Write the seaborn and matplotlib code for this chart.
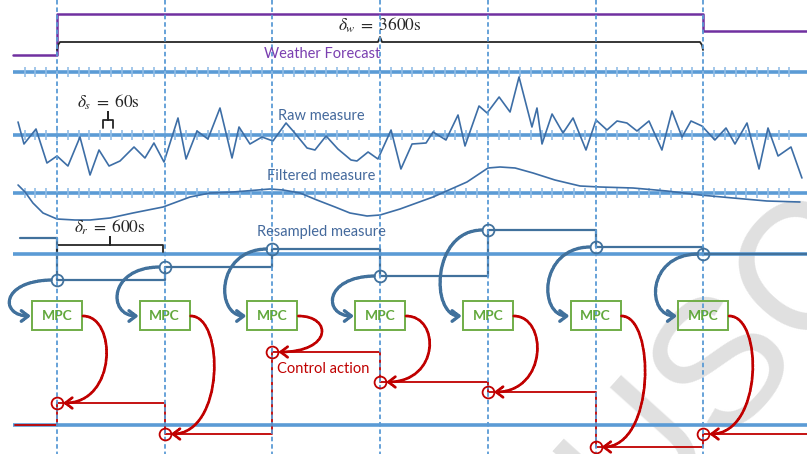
import numpy as np
import pandas as pd
import matplotlib
matplotlib.use("Agg")
import matplotlib.pyplot as plt
import seaborn as sns
from matplotlib.path import Path
from matplotlib.patches import FancyArrowPatch, Rectangle

# ---------------- data ----------------
# MPC / resampling instants (s)
sample_t = [0, 600, 1200, 1800, 2400, 3000, 3600]

# weather forecast step (level above its base line)
weather_t = [-245, 0, 3600, 4180]
weather_v = [0, 41, 24, 24]

# raw measure (s, deviation from lane axis)
raw_t = [-217, -184, -117, -56, 0, 61, 128, 184, 234, 290, 351, 429, 490, 540, 596,
         674, 719, 780, 841, 908, 975, 1014, 1075, 1142, 1203, 1276, 1320, 1393, 1437,
         1499, 1565, 1638, 1671, 1733, 1788, 1861, 1916, 1978, 2056, 2095, 2167, 2234,
         2273, 2351, 2396, 2463, 2524, 2574, 2646, 2674, 2702, 2758, 2819, 2875, 2947,
         3003, 3064, 3120, 3175, 3231, 3298, 3370, 3426, 3482, 3532, 3593, 3665, 3727,
         3777, 3844, 3911, 3961, 4017, 4089, 4150]
raw_v = [13, -9, 6, -28, -21, -31, -2, -40, -15, -31, -26, -12, -23, -8, -27,
         17, -24, 4, -4, 27, -23, 8, -9, -2, -6, 12, 3, -13, -15,
         -1, -14, -25, -26, -17, -24, 5, -34, -9, -8, 3, -5, 20,
         -11, 29, 22, 38, 23, 58, 8, 27, -9, 21, 2, 17, -15,
         15, 5, 14, 12, 4, 14, -15, 24, -2, 14, 9, -5, 7,
         -9, 12, -34, 7, -21, -12, -43]

# filtered measure
filt_t = [-217, -178, -134, -78, 0, 100, 184, 295, 423, 591, 741, 852, 981, 1187, 1259,
          1354, 1448, 1549, 1632, 1727, 1800, 1911, 2095, 2284, 2401, 2468, 2552, 2652,
          2774, 2914, 3025, 3209, 3398, 3582, 3766, 3955, 4139]
filt_v = [8, 1, -10, -20, -26, -27, -27, -25, -20, -14, -4, 0, 1, 4, 3,
          0, -7, -14, -20, -23, -22, -16, -4, 11, 25, 26, 25, 20,
          13, 7, 6, 5, 2, -2, -5, -8, -9]

# resampled measure (held value)
res_t = [-206, 0, 600, 1200, 1800, 2400, 3000, 3600, 4180]
res_v = [16, -26, -13, 5, -22, 24, 7, 0, 0]

# control action (held value)
ctrl_t = [-234, 0, 600, 1200, 1800, 2400, 3000, 3600, 4180]
ctrl_v = [0, 22, -9, 73, 43, 33, -22, -9, -9]

# ---------------- layout ----------------
PX = 600 / 107.7            # seconds per pixel
Y_WEATHER, Y_RAW, Y_FILT, Y_RES, Y_CTRL = 55, 135, 193, 254, 425
TICK_LANES = [72, 135, 193]
BLUE_AX = '#5b9bd5'
BLUE = '#41719c'
LINE = '#3d6ea6'
RED = '#c00000'
GREEN = '#70ad47'
PURPLE = '#7030a0'


def px(p):
    return (p - 57) * PX


sns.set_theme(style='white')
plt.rcParams['font.family'] = ['Lato', 'DejaVu Sans']
plt.rcParams['mathtext.fontset'] = 'stix'

fig = plt.figure(figsize=(8.07, 4.54), dpi=100)
ax = fig.add_axes([0, 0, 1, 1])

# watermark
ax.text(px(728), 357, 'MANUSCRIPT', fontsize=130, family='Liberation Sans',
        color='#e0e0e0', rotation=48, ha='center', va='center',
        rotation_mode='anchor', zorder=0)

# axis lines with 60 s ticks
ax.hlines([72, Y_RAW, Y_FILT, Y_RES, Y_CTRL], px(13), px(807), color=BLUE_AX, lw=2.6, zorder=2)
tick_t = np.arange(-180, 4081, 60)
for yl in TICK_LANES:
    ax.vlines(tick_t, yl - 5, yl + 5, color='#92bde6', lw=1.2, zorder=2)

# weather forecast
wdf = pd.DataFrame({'t': weather_t, 'y': Y_WEATHER - np.array(weather_v)})
sns.lineplot(data=wdf, x='t', y='y', ax=ax, color=PURPLE, lw=1.8,
             drawstyle='steps-post', estimator=None, sort=False, zorder=3)

# raw / filtered
rdf = pd.DataFrame({'t': raw_t, 'y': Y_RAW - np.array(raw_v)})
sns.lineplot(data=rdf, x='t', y='y', ax=ax, color=LINE, lw=1.2,
             estimator=None, sort=False, zorder=3)
fdf = pd.DataFrame({'t': filt_t, 'y': Y_FILT - np.array(filt_v)})
sns.lineplot(data=fdf, x='t', y='y', ax=ax, color=LINE, lw=1.2,
             estimator=None, sort=False, zorder=3)

# resampled / control steps
sdf = pd.DataFrame({'t': res_t, 'y': Y_RES - np.array(res_v)})
sns.lineplot(data=sdf, x='t', y='y', ax=ax, color=BLUE, lw=1.6,
             drawstyle='steps-post', estimator=None, sort=False, zorder=3)
cdf = pd.DataFrame({'t': ctrl_t, 'y': Y_CTRL - np.array(ctrl_v)})
sns.lineplot(data=cdf, x='t', y='y', ax=ax, color=RED, lw=1.3,
             drawstyle='steps-post', estimator=None, sort=False, zorder=3)

# vertical dashed instants
ax.vlines(sample_t, 0, 454, colors=BLUE_AX, linestyles=(0, (2.5, 1.6)), lw=1.3, zorder=4)

res_y = [Y_RES - v for v in res_v[1:8]]
ctrl_y = [Y_CTRL - v for v in ctrl_v[1:8]]
ax.plot(sample_t, res_y, 'o', ms=8.5, mfc='none', mec=BLUE, mew=1.3, zorder=6)
ax.plot(sample_t, ctrl_y, 'o', ms=8.5, mfc='none', mec=RED, mew=1.3, zorder=6)

# MPC boxes and arrows
C4 = [Path.MOVETO, Path.CURVE4, Path.CURVE4, Path.CURVE4]
for T, yr, yc in zip(sample_t, res_y, ctrl_y):
    ax.add_patch(Rectangle((T - 25 * PX, 301), 50 * PX, 29, fc='none', ec=GREEN, lw=1.4, zorder=5))
    ax.text(T, 316.5, 'MPC', color='#62a83c', fontsize=10, fontweight='bold',
            ha='center', va='center', zorder=5)
    bpath = Path([(T - 6 * PX, yr), (T - 57 * PX, yr + 1), (T - 57 * PX, 316), (T - 26 * PX, 316)], C4)
    ax.add_patch(FancyArrowPatch(path=bpath, arrowstyle='->,head_length=0.5,head_width=0.38',
                                 mutation_scale=10, lw=2.4, color=BLUE, linestyle=(0, (1, 0.5)), zorder=6))
    rpath = Path([(T + 26 * PX, 316), (T + 60 * PX, 316), (T + 60 * PX, yc), (T + 6 * PX, yc)], C4)
    ax.add_patch(FancyArrowPatch(path=rpath, arrowstyle='->,head_length=0.5,head_width=0.38',
                                 mutation_scale=10, lw=2.0, color=RED, linestyle=(0, (1, 0.5)), zorder=6))

# braces
BR = '#262626'
ax.plot([0, px(58), px(60), px(378), px(380), px(382), px(700), px(702), px(703)],
        [50, 45, 42, 42, 37, 42, 42, 45, 50], color=BR, lw=1.3, zorder=3)
ax.plot([0, 0, px(110), px(110), px(110), px(163), px(163)],
        [252, 245, 245, 237, 245, 245, 252], color=BR, lw=1.3, zorder=3)
ax.plot([px(103), px(103), px(108), px(108), px(108), px(113), px(113)],
        [128, 120, 120, 112, 120, 120, 128], color=BR, lw=1.3, zorder=3)

# labels
ax.text(px(380), 25, r'$\delta_w\;=\;3600\mathrm{s}$', fontsize=12.5, ha='center', va='center', zorder=7)
ax.text(px(108), 102, r'$\delta_s\;=\;60\mathrm{s}$', fontsize=12.5, ha='center', va='center', zorder=7)
ax.text(px(110), 227, r'$\delta_r\;=\;600\mathrm{s}$', fontsize=12.5, ha='center', va='center', zorder=7)
ax.text(px(322), 54, 'Weather Forecast', color='#7a3fb0', fontsize=10.5, ha='center', va='center', zorder=7)
lab = '#44699c'
ax.text(px(321), 116, 'Raw measure', color=lab, fontsize=10.5, ha='center', va='center', zorder=7)
ax.text(px(321), 176, 'Filtered measure', color=lab, fontsize=10.5, ha='center', va='center', zorder=7)
ax.text(px(321), 232, 'Resampled measure', color=lab, fontsize=10.5, ha='center', va='center', zorder=7)
ax.text(px(277), 369, 'Control action', color=RED, fontsize=10.5, ha='left', va='center', zorder=7)

ax.set_xlim(px(0), px(807))
ax.set_ylim(454, 0)
ax.axis('off')
fig.savefig('out.png', dpi=100)
